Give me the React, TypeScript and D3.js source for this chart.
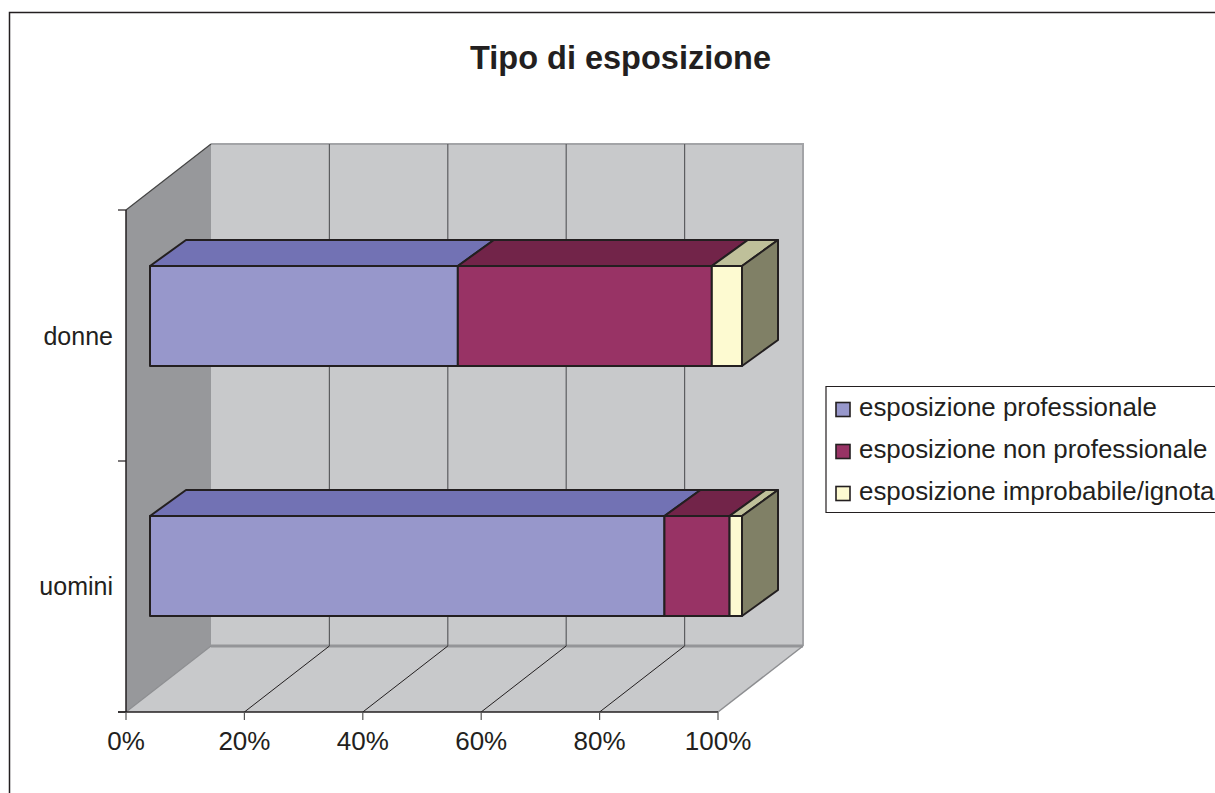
import React from "react";
import * as d3 from "d3";

const categories = ["donne", "uomini"];
const seriesNames = ["esposizione professionale", "esposizione non professionale", "esposizione improbabile/ignota"];
const professionale = [52, 86.9];
const nonProfessionale = [42.9, 11];
const improbabile = [5.1, 2.1];
const xTicks = [0, 20, 40, 60, 80, 100];
const frontColors = ["#9797cb", "#983365", "#fdfad1"];
const topColors = ["#7272b4", "#722449", "#bfc09a"];
const sideColor = "#808066";

const W = 1215, H = 793;
const x = d3.scaleLinear().domain([0, 100]).range([126, 718]);
const barX = d3.scaleLinear().domain([0, 100]).range([150, 742]);
const catBand = d3.scaleBand().domain(categories).range([210, 712]);
const barTop = d3.scalePoint().domain(categories).range([266, 516]);
const depth = { dx: 85, dy: -66 };
const barDepth = { dx: 36, dy: -26 };
const barH = 100;
const series = [professionale, nonProfessionale, improbabile];
const font = "'Liberation Sans', Arial, sans-serif";
const ink = "#231f20";

const poly = (pts: number[][]) => (d3.line()(pts as [number, number][]) as string) + "Z";

export default function App() {
  const y0 = 712, yT = 210;
  return (
    <svg width={W} height={H} style={{ position: "absolute", left: 0, top: 0 }} fontFamily={font}>
      <rect x={0} y={0} width={W} height={H} fill="#fff" />
      <path d={`M9.5,${H}V12.5H${W}`} fill="none" stroke={ink} strokeWidth={1.5} />
      <text x={620.5} y={69} textAnchor="middle" fontSize={32.5} fontWeight="bold" fill={ink}>Tipo di esposizione</text>

      {/* back wall */}
      <rect x={126 + depth.dx} y={yT + depth.dy} width={591} height={y0 - yT} fill="#c8c9cb" />
      {/* left wall */}
      <path d={poly([[126, yT], [126 + depth.dx, yT + depth.dy], [126 + depth.dx, y0 + depth.dy], [126, y0]])} fill="#97989b" />
      {/* floor */}
      <path d={poly([[126, y0], [126 + depth.dx, y0 + depth.dy], [718 + depth.dx, y0 + depth.dy], [718, y0]])} fill="#c8c9cb" />
      {/* back wall edges */}
      <path d={`M${126 + depth.dx},${yT + depth.dy}H${718 + depth.dx}V${y0 + depth.dy}`} fill="none" stroke="#a3a4a7" strokeWidth={2} />
      <path d={`M${126 + depth.dx},${y0 + depth.dy}H${718 + depth.dx}`} stroke="#949598" strokeWidth={3} />
      <path d={`M126,${y0}L${126 + depth.dx},${y0 + depth.dy}`} stroke="#8d8e91" strokeWidth={1.2} />
      <path d={`M718,${y0}L${718 + depth.dx},${y0 + depth.dy}`} stroke="#8d8e91" strokeWidth={1.5} />

      {/* gridlines */}
      {xTicks.slice(1, -1).map((t) => (
        <g key={t}>
          <line x1={x(t) + depth.dx} x2={x(t) + depth.dx} y1={yT + depth.dy} y2={y0 + depth.dy} stroke="#5c5d60" strokeWidth={1.2} />
          <line x1={x(t)} x2={x(t) + depth.dx} y1={y0} y2={y0 + depth.dy} stroke={ink} strokeWidth={1} />
        </g>
      ))}

      {/* axes */}
      <path d={`M126,${yT}L${126 + depth.dx},${yT + depth.dy}`} stroke="#444" strokeWidth={1.2} fill="none" />
      <line x1={126} x2={126} y1={yT} y2={y0} stroke={ink} strokeWidth={1.5} />
      <line x1={118} x2={718} y1={y0} y2={y0} stroke={ink} strokeWidth={1.5} />
      {[yT, catBand("uomini") as number, y0].map((v) => (
        <line key={v} x1={118} x2={126} y1={v} y2={v} stroke={ink} strokeWidth={1.2} />
      ))}
      {xTicks.map((t) => (
        <g key={t}>
          <line x1={x(t)} x2={x(t)} y1={y0} y2={y0 + 8} stroke="#555" strokeWidth={1.2} />
          <text x={x(t)} y={750} textAnchor="middle" fontSize={26} fill={ink}>{t}%</text>
        </g>
      ))}

      {/* bars */}
      {categories.map((c, i) => {
        const yTop = barTop(c) as number;
        const bot = yTop + barH;
        let acc = 0;
        const segs = series.map((s) => {
          const a = acc;
          acc += s[i];
          return [a, acc];
        });
        const end = barX(100);
        return (
          <g key={c} stroke={ink} strokeWidth={2} strokeLinejoin="round">
            {segs.map(([a, b], k) => (
              <g key={k}>
                <path d={poly([[barX(a), yTop], [barX(a) + barDepth.dx, yTop + barDepth.dy], [barX(b) + barDepth.dx, yTop + barDepth.dy], [barX(b), yTop]])} fill={topColors[k]} />
                <rect x={barX(a)} y={yTop} width={barX(b) - barX(a)} height={barH} fill={frontColors[k]} />
              </g>
            ))}
            <path d={poly([[end, yTop], [end + barDepth.dx, yTop + barDepth.dy], [end + barDepth.dx, bot + barDepth.dy], [end, bot]])} fill={sideColor} />
            <text x={113} y={yTop + 79} textAnchor="end" fontSize={25} fill={ink} stroke="none">{c}</text>
          </g>
        );
      })}

      {/* legend */}
      <path d={`M${W},386.5H826V512.5H${W}`} fill="#fff" stroke={ink} strokeWidth={1.2} />
      {seriesNames.map((n, i) => {
        const cy = 409.5 + i * 42;
        return (
          <g key={n}>
            <rect x={836} y={cy - 7} width={14} height={14} fill={frontColors[i]} stroke={ink} strokeWidth={1.6} />
            <text x={859} y={cy + 6.5} fontSize={25.9} fill={ink}>{n}</text>
          </g>
        );
      })}
    </svg>
  );
}
